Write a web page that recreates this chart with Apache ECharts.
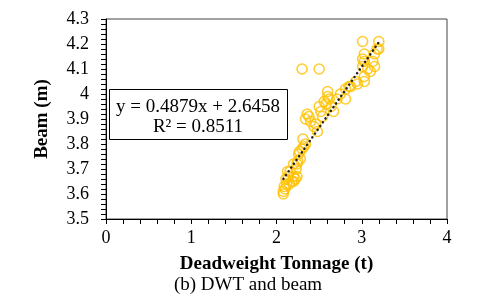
<!DOCTYPE html>
<html><head><meta charset="utf-8">
<script src="https://cdn.jsdelivr.net/npm/echarts@6/dist/echarts.min.js"></script>
<style>html,body{margin:0;padding:0;background:#fff}#c{width:480px;height:307px}</style>
</head><body><div id="c"></div>
<script>
const dwt = [2.08,2.08,2.10,2.09,2.12,2.15,2.11,2.13,2.14,2.18,2.20,2.22,2.24,2.16,2.20,2.23,2.20,2.25,2.24,2.28,2.26,2.27,2.30,2.32,2.34,2.31,
  2.34,2.36,2.40,2.38,2.46,2.48,2.44,2.52,2.54,2.56,2.50,2.60,2.60,2.64,2.67,2.58,2.62,
  2.71,2.75,2.81,2.81,2.85,2.87,2.93,2.95,3.03,3.03,3.01,3.03,3.13,3.01,3.03,3.15,3.15,3.01,3.18,3.20,3.20,3.10,3.07,
  2.30,2.50];
const beam = [3.60,3.61,3.62,3.63,3.64,3.64,3.66,3.69,3.67,3.65,3.65,3.66,3.67,3.69,3.67,3.70,3.72,3.73,3.72,3.74,3.76,3.77,3.78,3.79,3.80,3.82,
  3.90,3.92,3.89,3.91,3.88,3.85,3.87,3.93,3.91,3.97,3.95,3.99,4.01,3.95,3.93,3.96,3.98,
  3.98,4.00,3.98,4.02,4.03,4.03,4.05,4.04,4.05,4.07,4.11,4.13,4.13,4.14,4.16,4.16,4.11,4.21,4.18,4.21,4.18,4.09,4.10,
  4.10,4.10];
const slope = 0.4879, intercept = 2.6458;
const eqText = ['y = 0.4879x + 2.6458', 'R² = 0.8511'];
const xTicks = [0, 1, 2, 3, 4];
const yTicks = [3.5, 3.6, 3.7, 3.8, 3.9, 4.0, 4.1, 4.2, 4.3];

const pts = dwt.map((x, i) => [x, beam[i]]);
const xmin = Math.min(...dwt), xmax = Math.max(...dwt);
const trend = [[xmin, slope*xmin+intercept], [xmax, slope*xmax+intercept]];
const serif = '"Liberation Serif","DejaVu Serif",serif';
const chart = echarts.init(document.getElementById('c'));
chart.setOption({
  animation: false,
  backgroundColor: '#fff',
  grid: {left: 106, right: 33, top: 19, bottom: 88, show: true, borderColor: '#444', borderWidth: 1},
  xAxis: {
    type: 'value', min: xTicks[0], max: xTicks[xTicks.length-1], interval: 1,
    name: 'Deadweight Tonnage (t)', nameLocation: 'middle', nameGap: 36,
    nameTextStyle: {fontFamily: serif, fontWeight: 'bold', fontSize: 19, color: '#000'},
    axisLine: {lineStyle: {color: '#000', width: 1}},
    axisTick: {show: true, inside: false, length: 5, lineStyle: {color: '#000'}},
    minorTick: {show: true, splitNumber: 5, length: 5, lineStyle: {color: '#000'}},
    splitLine: {show: false},
    axisLabel: {fontFamily: serif, fontSize: 18, color: '#000', margin: 10}
  },
  yAxis: {
    type: 'value', min: yTicks[0], max: yTicks[yTicks.length-1], interval: 0.1,
    name: 'Beam (m)', nameLocation: 'middle', nameGap: 54,
    nameTextStyle: {fontFamily: serif, fontWeight: 'bold', fontSize: 19, color: '#000'},
    axisLine: {show: true, lineStyle: {color: '#000', width: 1}},
    axisTick: {show: true, inside: false, length: 5, lineStyle: {color: '#000'}},
    minorTick: {show: true, splitNumber: 5, length: 5, lineStyle: {color: '#000'}},
    splitLine: {show: false},
    axisLabel: {fontFamily: serif, fontSize: 18, color: '#000', margin: 17,
      formatter: v => (Math.abs(v - 4) < 1e-9 ? '4' : v.toFixed(1))}
  },
  series: [
    {type: 'scatter', data: pts, symbol: 'circle', symbolSize: 10,
     itemStyle: {color: 'rgba(0,0,0,0)', borderColor: '#FFC000', borderWidth: 1.6}, z: 2},
    {type: 'line', data: trend, symbol: 'none',
     lineStyle: {color: '#222', width: 2.5, type: [0.1, 4.5], cap: 'round'}, z: 3}
  ],
  graphic: [
    {type: 'rect', shape: {x: 109.5, y: 89.5, width: 178, height: 50},
     style: {fill: '#fff', stroke: '#000', lineWidth: 1}, z: 10},
    {type: 'text', x: 198, y: 107, z: 11,
     style: {text: eqText[0], fontFamily: serif, fontSize: 19, fill: '#000', textAlign: 'center', textVerticalAlign: 'middle'}},
    {type: 'text', x: 198, y: 127, z: 11,
     style: {text: eqText[1], fontFamily: serif, fontSize: 19, fill: '#000', textAlign: 'center', textVerticalAlign: 'middle'}},
    {type: 'text', x: 248, y: 285, z: 11,
     style: {text: '(b) DWT and beam', fontFamily: serif, fontSize: 19, fill: '#000', textAlign: 'center', textVerticalAlign: 'middle'}}
  ]
});
</script></body></html>
